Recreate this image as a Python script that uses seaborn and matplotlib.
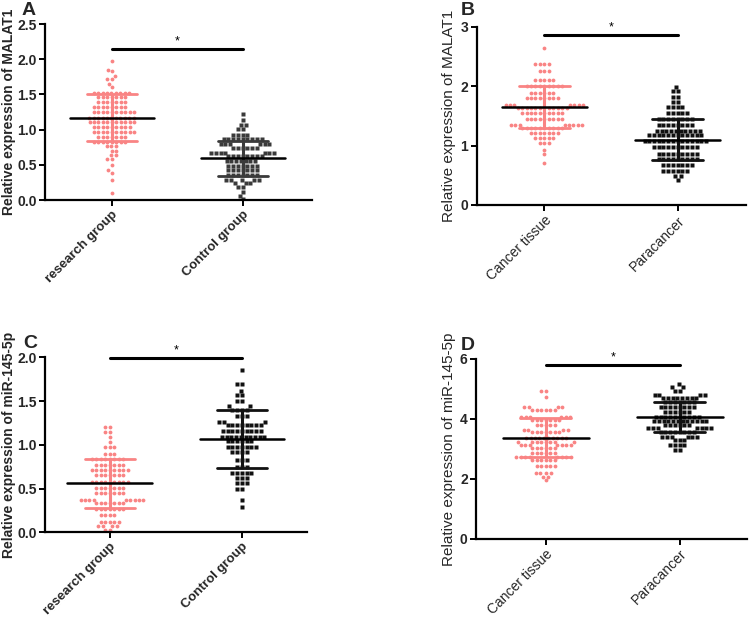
import numpy as np
import pandas as pd
import matplotlib
matplotlib.use("Agg")
import matplotlib.pyplot as plt
import seaborn as sns

sns.set_style("ticks")
plt.rcParams["font.family"] = ["Liberation Sans", "DejaVu Sans"]

PINK = "#F98484"

# ---------------- data (row levels and counts) -------
A_cats = ["research group", "Control group"]
A_res_lvl = [1.97, 1.85, 1.83, 1.76, 1.72, 1.65, 1.60, 1.52, 1.46, 1.39, 1.32, 1.25,
             1.17, 1.11, 1.04, 0.97, 0.90, 0.83, 0.76, 0.70, 0.64, 0.58, 0.50, 0.42,
             0.38, 0.29, 0.10]
A_res_cnt = [1, 1, 1, 1, 2, 1, 1, 9, 7, 7, 8, 10, 11, 11, 9, 10, 7, 8, 3, 2, 2, 2, 1, 1, 1, 1, 1]
A_ctl_lvl = [1.22, 1.13, 1.07, 1.01, 0.93, 0.86, 0.79, 0.74, 0.67, 0.62, 0.55, 0.49,
             0.42, 0.35, 0.28, 0.24, 0.19, 0.11, 0.06, 0.01]
A_ctl_cnt = [1, 1, 2, 2, 4, 9, 6, 6, 7, 8, 7, 7, 7, 7, 5, 3, 2, 1, 1, 1]
A_mean = [1.17, 0.59]
A_sd = [0.33, 0.25]

B_cats = ["Cancer tissue", "Paracancer"]
B_can_lvl = [2.65, 2.37, 2.26, 2.11, 2.00, 1.89, 1.80, 1.69, 1.64, 1.54, 1.44, 1.35,
             1.29, 1.21, 1.12, 1.04, 0.93, 0.85, 0.71]
B_can_cnt = [1, 4, 3, 5, 9, 6, 8, 7, 12, 10, 9, 8, 10, 7, 5, 3, 1, 1, 1]
B_par_lvl = [1.98, 1.91, 1.82, 1.74, 1.65, 1.54, 1.45, 1.35, 1.25, 1.18, 1.08, 0.98,
             0.86, 0.77, 0.67, 0.58, 0.48, 0.42]
B_par_cnt = [1, 2, 2, 2, 4, 5, 8, 8, 10, 12, 14, 10, 9, 9, 7, 6, 2, 1]
B_mean = [1.65, 1.10]
B_sd = [0.36, 0.34]

C_cats = ["research group", "Control group"]
C_res_lvl = [1.20, 1.15, 1.09, 1.03, 0.98, 0.90, 0.84, 0.77, 0.71, 0.66, 0.58, 0.51,
             0.45, 0.37, 0.33, 0.27, 0.20, 0.12, 0.07, 0.03]
C_res_cnt = [2, 2, 1, 1, 3, 3, 8, 7, 9, 7, 9, 7, 7, 9, 7, 7, 4, 5, 4, 2]
C_ctl_lvl = [1.86, 1.70, 1.62, 1.57, 1.50, 1.44, 1.40, 1.33, 1.26, 1.23, 1.16, 1.09,
             1.04, 0.98, 0.92, 0.83, 0.75, 0.68, 0.62, 0.56, 0.49, 0.37, 0.29]
C_ctl_cnt = [1, 2, 1, 2, 2, 2, 4, 3, 3, 8, 9, 10, 6, 7, 4, 3, 3, 5, 3, 3, 2, 1, 1]
C_mean = [0.56, 1.07]
C_sd = [0.28, 0.33]

D_cats = ["Cancer tissue", "Paracancer"]
D_can_lvl = [4.93, 4.74, 4.39, 4.30, 4.08, 3.96, 3.80, 3.63, 3.57, 3.37, 3.24, 3.13,
             3.02, 2.85, 2.74, 2.63, 2.44, 2.18, 2.07, 1.96]
D_can_cnt = [2, 1, 4, 6, 6, 7, 5, 4, 7, 10, 8, 7, 6, 6, 8, 6, 5, 4, 2, 1]
D_par_lvl = [5.16, 5.06, 4.94, 4.80, 4.71, 4.58, 4.41, 4.24, 4.08, 3.94, 3.80, 3.69,
             3.57, 3.41, 3.30, 3.13, 2.96]
D_par_cnt = [1, 2, 2, 4, 8, 7, 8, 6, 10, 12, 6, 7, 8, 6, 3, 4, 2]
D_mean = [3.37, 4.07]
D_sd = [0.65, 0.51]

# ---------------- figure ----------------------------------------------------
W, H = 750, 617
fig = plt.figure(figsize=(W / 100, H / 100), dpi=100)
CLEAR = (1, 1, 1, 0)


def rect(x0, y_top, x1, y_bot):
    return [x0 / W, 1 - y_bot / H, (x1 - x0) / W, (y_bot - y_top) / H]


panels = [
    dict(letter="A", rect=rect(45, 24, 312, 200), letter_xy=(22, 15),
         cats=A_cats, g1=(A_res_lvl, A_res_cnt), g2=(A_ctl_lvl, A_ctl_cnt),
         mean=A_mean, sd=A_sd, ylim=2.5, yticks=[0, 0.5, 1.0, 1.5, 2.0, 2.5],
         fmt="{:.1f}", ylabel="Relative expression of MALAT1", bold=True,
         xlim=(-0.51, 1.53), sig=2.14, c2="#3A3A3A"),
    dict(letter="B", rect=rect(476.7, 26.7, 745.7, 205), letter_xy=(461, 15),
         cats=B_cats, g1=(B_can_lvl, B_can_cnt), g2=(B_par_lvl, B_par_cnt),
         mean=B_mean, sd=B_sd, ylim=3, yticks=[0, 1, 2, 3],
         fmt="{:.0f}", ylabel="Relative expression of MALAT1", bold=False,
         xlim=(-0.507, 1.51), sig=2.86, c2="#111111"),
    dict(letter="C", rect=rect(45, 357.3, 306.7, 532.3), letter_xy=(23, 348),
         cats=C_cats, g1=(C_res_lvl, C_res_cnt), g2=(C_ctl_lvl, C_ctl_cnt),
         mean=C_mean, sd=C_sd, ylim=2.0, yticks=[0, 0.5, 1.0, 1.5, 2.0],
         fmt="{:.1f}", ylabel="Relative expression of miR-145-5p", bold=True,
         xlim=(-0.49, 1.49), sig=1.99, c2="#111111"),
    dict(letter="D", rect=rect(476, 359, 746.7, 538.7), letter_xy=(461, 350),
         cats=D_cats, g1=(D_can_lvl, D_can_cnt), g2=(D_par_lvl, D_par_cnt),
         mean=D_mean, sd=D_sd, ylim=6, yticks=[0, 2, 4, 6],
         fmt="{:.0f}", ylabel="Relative expression of miR-145-5p", bold=False,
         xlim=(-0.52, 1.50), sig=5.80, c2="#111111"),
]

for p in panels:
    ax = fig.add_axes(p["rect"])
    ax.set_xlim(*p["xlim"])
    ax.set_ylim(0, p["ylim"])
    lv1, ct1 = p["g1"]
    lv2, ct2 = p["g2"]
    d1 = pd.DataFrame({"group": p["cats"][0], "value": np.repeat(lv1, ct1)})
    d2 = pd.DataFrame({"group": p["cats"][1], "value": np.repeat(lv2, ct2)})
    # transparent edges leave a small gap between neighbouring markers
    sns.swarmplot(data=d1, x="group", y="value", order=p["cats"], color=PINK,
                  marker="o", size=2.75, linewidth=0.3, edgecolor=CLEAR,
                  ax=ax, zorder=2, warn_thresh=1)
    sns.swarmplot(data=d2, x="group", y="value", order=p["cats"], color=p["c2"],
                  marker="s", size=2.7, linewidth=0.55, edgecolor=CLEAR,
                  ax=ax, zorder=2, warn_thresh=1)

    colors = [PINK, p["c2"]]
    for i in range(2):
        m, s = p["mean"][i], p["sd"][i]
        ax.plot([i, i], [m - s, m + s], color=colors[i], lw=2.2, zorder=3,
                solid_capstyle="butt")
        ax.plot([i - 0.19, i + 0.19], [m + s, m + s], color=colors[i], lw=2.0, zorder=3)
        ax.plot([i - 0.19, i + 0.19], [m - s, m - s], color=colors[i], lw=2.0, zorder=3)
        ax.plot([i - 0.32, i + 0.32], [m, m], color="black", lw=1.8, zorder=4)

    # significance bar
    ax.plot([0, 1], [p["sig"], p["sig"]], color="black", lw=2.2, clip_on=False)
    ax.text(0.5, p["sig"] + p["ylim"] * 0.008, "*", ha="center", va="bottom",
            fontsize=9, color="black")

    ax.set_xlim(*p["xlim"])
    ax.set_ylim(0, p["ylim"])
    ax.set_yticks(p["yticks"])
    weight = "bold" if p["bold"] else "normal"
    ax.set_yticklabels([p["fmt"].format(t) for t in p["yticks"]],
                       fontsize=10, fontweight="bold")
    ax.set_xticks([0, 1])
    ax.set_xticklabels(p["cats"], rotation=45, ha="right", rotation_mode="anchor",
                       fontsize=9.5 if p["bold"] else 10, fontweight=weight)
    ax.set_xlabel("")
    ax.set_ylabel(p["ylabel"], fontsize=10 if p["bold"] else 11,
                  fontweight=weight, labelpad=1 if p["bold"] else 3)
    for sp in ["top", "right"]:
        ax.spines[sp].set_visible(False)
    for sp in ["left", "bottom"]:
        ax.spines[sp].set_linewidth(1.6)
        ax.spines[sp].set_color("black")
    ax.tick_params(axis="both", width=1.4, length=4, color="black", pad=2)

    fig.text(p["letter_xy"][0] / W, 1 - p["letter_xy"][1] / H, p["letter"],
             fontsize=14, fontweight="bold", ha="left", va="baseline")

fig.savefig("out.png", dpi=100)
